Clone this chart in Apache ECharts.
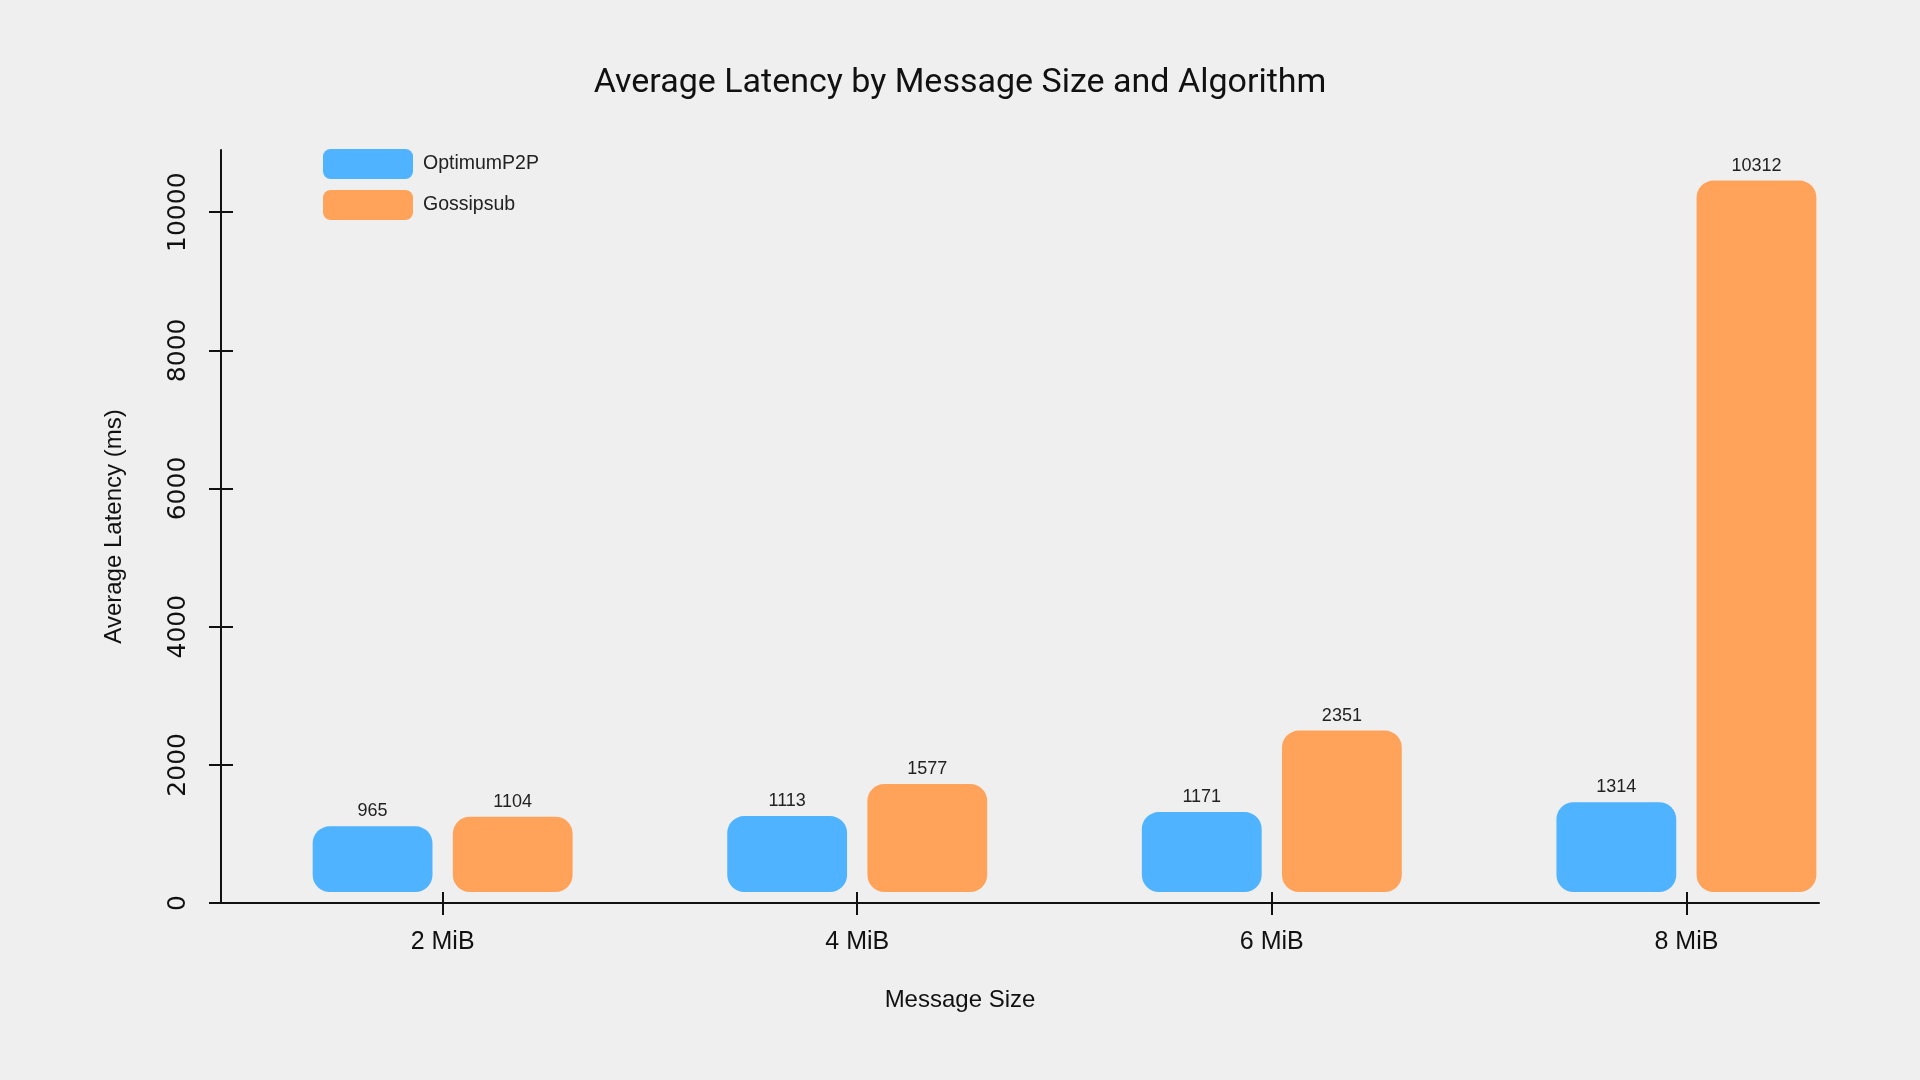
<!DOCTYPE html>
<html>
<head>
    <meta charset="UTF-8">
    <title>Average Latency by Message Size and Algorithm</title>
    <style>
        html, body { margin: 0; padding: 0; background: #efefef; }
        #chart { width: 1920px; height: 1080px; }
    </style>
</head>
<body>
<div id="chart"></div>
<script src="https://cdn.jsdelivr.net/npm/echarts@6/dist/echarts.min.js"></script>
<script>
    // data
    var sizes = ['2 MiB', '4 MiB', '6 MiB', '8 MiB'];
    var optimumP2P = [965, 1113, 1171, 1314];
    var gossipsub = [1104, 1577, 2351, 10312];
    var yTicks = [0, 2000, 4000, 6000, 8000, 10000];
    var xTicks = [0, 1, 2, 3];

    var BAR_W = 0.289;   // bar width in category units
    var BAR_OFF = 0.169; // distance of each bar centre from the tick
    var LIFT = 10;       // bars sit a little above the axis

    function makeRender(side) {
        return function (params, api) {
            var x = api.value(0), v = api.value(1);
            var top = api.coord([x, v]);
            var base = api.coord([x, 0]);
            var unit = api.size([1, 0])[0];
            var w = unit * BAR_W;
            var cx = top[0] + side * BAR_OFF * unit;
            var y0 = top[1] - LIFT;
            var y1 = base[1] - LIFT - 1;
            return {
                type: 'group',
                children: [{
                    type: 'rect',
                    shape: { x: cx - w / 2, y: y0, width: w, height: y1 - y0, r: 17 },
                    style: api.style()
                }, {
                    type: 'text',
                    style: {
                        text: String(v),
                        x: cx, y: y0 - 6,
                        align: 'center', verticalAlign: 'bottom',
                        fontFamily: 'Liberation Sans', fontSize: 18, fill: '#222'
                    }
                }]
            };
        };
    }

    var chart = echarts.init(document.getElementById('chart'));
    var font = 'Liberation Sans';

    var option = {
        backgroundColor: '#efefef',
        animation: false,
        title: {
            text: 'Average Latency by Message Size and Algorithm',
            left: 'center', top: 61,
            textStyle: { fontFamily: 'Roboto', fontSize: 34, fontWeight: 'normal', color: '#111' }
        },
        legend: {
            orient: 'vertical',
            left: 318, top: 144,
            itemWidth: 90, itemHeight: 30, itemGap: 11,
            icon: 'roundRect',
            textStyle: { fontFamily: font, fontSize: 19.5, color: '#222', padding: [0, 0, 0, 5] },
            data: ['OptimumP2P', 'Gossipsub']
        },
        grid: { left: 221, right: 101, top: 150, bottom: 177 },
        xAxis: [{
            type: 'value',
            min: -0.5346, max: 3.3198,
            name: 'Message Size',
            nameLocation: 'middle', nameGap: 85,
            nameTextStyle: { fontFamily: font, fontSize: 24, color: '#111', padding: [0, 120, 0, 0] },
            axisLine: { onZero: false, lineStyle: { color: '#111', width: 2 } },
            axisTick: { length: 12, customValues: xTicks, lineStyle: { color: '#111', width: 2 } },
            axisLabel: {
                customValues: xTicks, margin: 27,
                fontFamily: font, fontSize: 25, color: '#111',
                formatter: function (v) { return sizes[Math.round(v)]; }
            },
            splitLine: { show: false }
        }, {
            type: 'value',
            min: -0.5346, max: 3.3198,
            position: 'bottom',
            axisLine: { show: false, onZero: false },
            axisTick: { inside: true, length: 11, customValues: xTicks, lineStyle: { color: '#111', width: 2 } },
            axisLabel: { show: false },
            splitLine: { show: false }
        }],
        yAxis: [{
            type: 'value',
            min: 0, max: 10900,
            name: 'Average Latency (ms)',
            nameLocation: 'middle', nameGap: 95, nameRotate: 90,
            nameTextStyle: { fontFamily: font, fontSize: 24, color: '#111' },
            axisLine: { show: true, onZero: false, lineStyle: { color: '#111', width: 2 } },
            axisTick: { show: true, length: 12, customValues: yTicks, lineStyle: { color: '#111', width: 2 } },
            axisLabel: {
                customValues: yTicks, rotate: 90, margin: 30,
                fontFamily: 'DejaVu Sans', fontSize: 25, color: '#111',
                formatter: function (v) { return String(v); }
            },
            splitLine: { show: false }
        }, {
            type: 'value',
            min: 0, max: 10900,
            position: 'left',
            axisLine: { show: false, onZero: false },
            axisTick: { show: true, inside: true, length: 12, customValues: yTicks, lineStyle: { color: '#111', width: 2 } },
            axisLabel: { show: false },
            splitLine: { show: false }
        }],
        series: [{
            name: 'OptimumP2P',
            type: 'custom',
            renderItem: makeRender(-1),
            itemStyle: { color: '#50b3ff' },
            encode: { x: 0, y: 1 },
            data: sizes.map(function (s, i) { return [i, optimumP2P[i]]; })
        }, {
            name: 'Gossipsub',
            type: 'custom',
            renderItem: makeRender(1),
            itemStyle: { color: '#ffa35a' },
            encode: { x: 0, y: 1 },
            data: sizes.map(function (s, i) { return [i, gossipsub[i]]; })
        }]
    };

    chart.setOption(option);
</script>
</body>
</html>
